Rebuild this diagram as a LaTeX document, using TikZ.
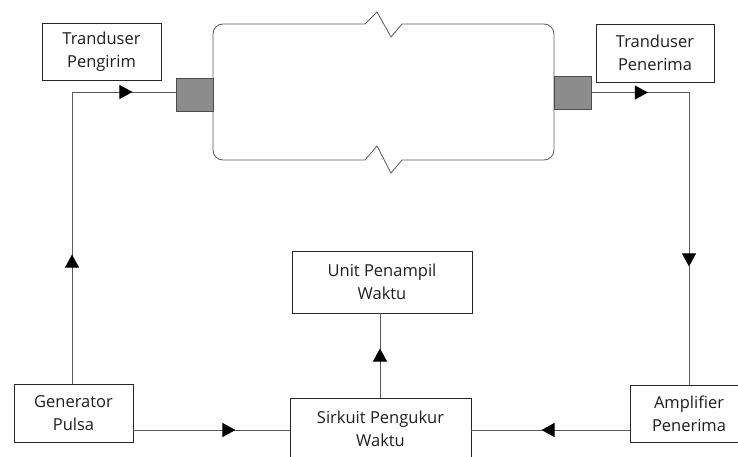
\documentclass[tikz,border=0pt]{standalone}
\usepackage{fontspec}
\setmainfont{Open Sans}
\usetikzlibrary{arrows.meta, positioning, decorations.markings}
\definecolor{linegray}{RGB}{90,90,90}
\definecolor{probegray}{RGB}{140,140,140}
\definecolor{textdark}{RGB}{30,30,30}

\tikzset{
  blockbox/.style={draw=black!85, line width=0.9pt, fill=white, align=center,
    text=textdark, font=\fontsize{16.5}{23}\selectfont, inner sep=0pt},
  probe/.style={draw=black!70, line width=0.8pt, fill=probegray, inner sep=0pt,
    minimum width=37pt, minimum height=33pt},
  wire/.style={draw=linegray, line width=0.9pt},
  tipat/.style={postaction={decorate, decoration={markings,
    mark=at position #1 with {\arrow[black]{Triangle[length=13pt,width=14pt]}}}}}
}

\begin{document}
\begin{tikzpicture}[x=1pt, y=-1pt]
  \useasboundingbox (0,0) rectangle (738,457);
  % blocks
  \node[blockbox, minimum width=119pt, minimum height=57pt] (pengirim) at (101.5,51.5) {Tranduser\\Pengirim};
  \node[blockbox, minimum width=118pt, minimum height=58pt] (penerima) at (655,53) {Tranduser\\Penerima};
  \node[blockbox, minimum width=119pt, minimum height=58pt] (generator) at (73.5,413) {Generator\\Pulsa};
  \node[blockbox, minimum width=180pt, minimum height=62pt] (penampil) at (382,282) {Unit Penampil\\Waktu};
  \node[blockbox, minimum width=181pt, minimum height=62pt] (sirkuit) at (380.5,429) {Sirkuit Pengukur\\Waktu};
  \node[blockbox, minimum width=118pt, minimum height=57pt] (amplifier) at (689,413.5) {Amplifier\\Penerima};
  % pipe with break lines
  \draw[linegray, line width=0.8pt, rounded corners=10pt]
    (402,24) -- (554,24) -- (554,160) -- (402,160);
  \draw[linegray, line width=0.8pt, rounded corners=10pt]
    (365,160) -- (213,160) -- (213,24) -- (365,24);
  \draw[linegray, line width=0.8pt] (365,24) -- (377,12) -- (391,37) -- (402,24);
  \draw[linegray, line width=0.8pt] (365,160) -- (377,146) -- (391,173) -- (402,160);
  % probes on the pipe
  \node[probe] (probekiri) at (194.5,94.5) {};
  \node[probe] (probekanan) at (573,92.5) {};
  % signal path
  \coordinate (sudutkiri) at (72,92);
  \coordinate (sudutkanan) at (689,92.5);
  \draw[wire, tipat=129pt, tipat=352pt] (generator.north -| sudutkiri) -- (sudutkiri) -- (probekiri.west |- sudutkiri);
  \draw[wire, tipat=56pt, tipat=271pt] (probekanan.east |- sudutkanan) -- (sudutkanan) -- (amplifier.north -| sudutkanan);
  \draw[wire, tipat=102pt] (generator.east |- 0,430) -- (sirkuit.west |- 0,430);
  \draw[wire, tipat=88pt] (amplifier.west |- 0,430) -- (sirkuit.east |- 0,430);
  \draw[wire, tipat=49pt] (sirkuit.north -| 380,0) -- (penampil.south -| 380,0);
\end{tikzpicture}
\end{document}
